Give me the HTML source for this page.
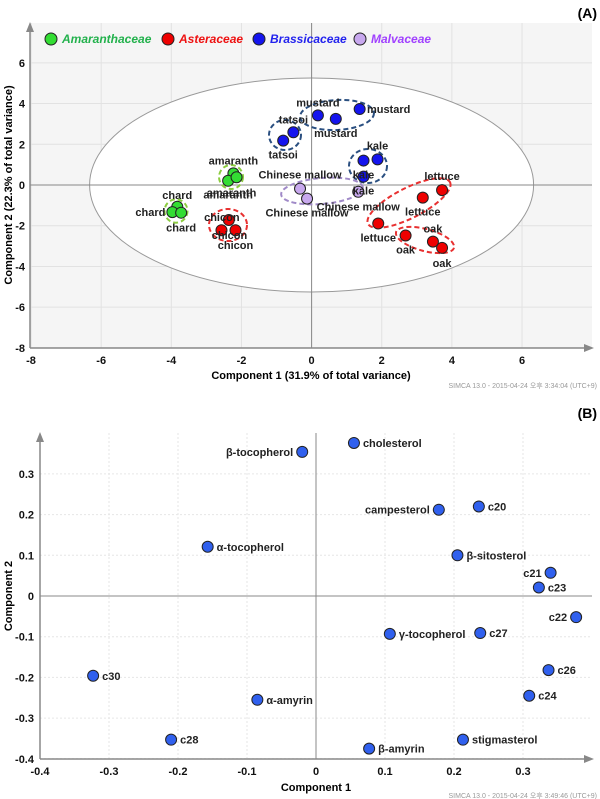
<!DOCTYPE html>
<html><head><meta charset="utf-8"><style>
body{margin:0;background:#fff;}
svg{display:block;font-family:"Liberation Sans",sans-serif;}
.t{font-size:11px;font-weight:bold;fill:#222;}
.tk{font-size:11px;font-weight:bold;fill:#111;}
</style></head><body>
<svg id="s" width="600" height="799" viewBox="0 0 600 799" xmlns="http://www.w3.org/2000/svg">
<text x="597" y="18" text-anchor="end" style="font-size:14px;font-weight:bold">(A)</text>
<text x="597" y="418" text-anchor="end" style="font-size:14px;font-weight:bold">(B)</text>
<g id="A"></g>
<g id="B"></g>
</svg>
<script>
// ---- Panel A data ----
const aNames=["chard","chard","chard","amaranth","amaranth","amaranth","chicon","chicon","chicon","lettuce","lettuce","lettuce","oak","oak","oak","mustard","mustard","mustard","tatsoi","tatsoi","kale","kale","kale","Chinese mallow","Chinese mallow","Chinese mallow"];
const aFamily=[0,0,0,0,0,0,1,1,1,1,1,1,1,1,1,2,2,2,2,2,2,2,2,3,3,3];
const aX=[-3.83,-3.97,-3.72,-2.23,-2.38,-2.14,-2.36,-2.57,-2.17,3.72,3.17,1.90,3.46,2.68,3.72,0.18,0.69,1.37,-0.52,-0.81,1.88,1.48,1.48,-0.33,-0.13,1.33];
const aY=[-1.07,-1.33,-1.36,0.57,0.21,0.38,-1.72,-2.22,-2.22,-0.25,-0.62,-1.89,-2.78,-2.48,-3.09,3.42,3.25,3.73,2.59,2.18,1.26,1.20,0.41,-0.18,-0.67,-0.33];
const aXTicks=[-8,-6,-4,-2,0,2,4,6];
const aYTicks=[-8,-6,-4,-2,0,2,4,6];
const families=["Amaranthaceae","Asteraceae","Brassicaceae","Malvaceae"];
// label offsets (px)
const aLdx=[0,-22,0,0,0,-5,-7,8,0,0,0,0,0,0,0,0,0,29,0,0,0,0,0,0,0,0];
const aLdy=[-12,0,15,-13,14,15,-3,5,15,-14,14,14,-13,14,15,-13,14,0,-13,14,-14,14,14,-14,14,15];
// ---- Panel B data ----
const bNames=["cholesterol","β-tocopherol","campesterol","c20","α-tocopherol","β-sitosterol","c21","c23","c22","γ-tocopherol","c27","c26","c24","c30","α-amyrin","c28","β-amyrin","stigmasterol"];
const bX=[0.055,-0.020,0.178,0.236,-0.157,0.205,0.340,0.323,0.377,0.107,0.238,0.337,0.309,-0.323,-0.085,-0.210,0.077,0.213];
const bY=[0.376,0.354,0.212,0.220,0.121,0.100,0.057,0.021,-0.052,-0.093,-0.091,-0.182,-0.245,-0.196,-0.255,-0.353,-0.375,-0.353];
const bLeft=[0,1,1,0,0,0,1,0,1,0,0,0,0,0,0,0,0,0];
const bXTicks=[-0.4,-0.3,-0.2,-0.1,0,0.1,0.2,0.3];
const bYTicks=[-0.4,-0.3,-0.2,-0.1,0,0.1,0.2,0.3];

const NS="http://www.w3.org/2000/svg";
function mk(p,tag,at,txt){const e=document.createElementNS(NS,tag);for(const k in at)e.setAttribute(k,at[k]);if(txt!==undefined)e.textContent=txt;p.appendChild(e);return e;}

// Panel A scales
const axX=v=>311.6+v*35.07, axY=v=>185+(-v)*20.36;
const A=document.getElementById('A');
let bg=mk(A,'rect',{x:30,y:23,width:562,height:325,fill:'#f5f5f5'});


aXTicks.forEach(v=>{let l=mk(A,'line',{x1:axX(v),x2:axX(v),y1:23,y2:348,stroke:'#e2e2e2'});


let t=mk(A,'text',{x:axX(v),y:364,'text-anchor':'middle',class:'tk'},String(v));

});
aYTicks.forEach(v=>{let l=mk(A,'line',{x1:30,x2:592,y1:axY(v),y2:axY(v),stroke:'#e2e2e2'});


let t=mk(A,'text',{x:25,y:axY(v)+4,'text-anchor':'end',class:'tk'},String(v));

});
let el=mk(A,'ellipse',{cx:axX(0),cy:axY(0),rx:222,ry:107,fill:'#fff',stroke:'#999','stroke-width':1});


mk(A,'line',{x1:axX(0),x2:axX(0),y1:23,y2:348,stroke:'#888'});
mk(A,'line',{x1:30,x2:592,y1:axY(0),y2:axY(0),stroke:'#888'});
mk(A,'line',{x1:30,x2:30,y1:28,y2:348,stroke:'#888','stroke-width':1.5});
mk(A,'line',{x1:30,x2:588,y1:348,y2:348,stroke:'#888','stroke-width':1.5});
mk(A,'path',{d:'M26,32 L30,22 L34,32Z',fill:'#888'});
mk(A,'path',{d:'M584,344 L594,348 L584,352Z',fill:'#888'});
// group ellipses (decorative)
const groups=[[231,177,12,12,0,'#8ccc40'],[176,211,11.5,11.7,0,'#8ccc40'],[228,225,19,16,0,'#e83030'],[285,135,16,15,0,'#2a4f80'],[337,115,37,15,-3,'#2a4f80'],[368,166,19,17,0,'#2a4f80'],[322,191,41,13,-5,'#a08ac8'],[409,203,46,15,-27,'#e83030'],[425,240,30,11,15,'#e83030']];
groups.forEach(g=>{let e=mk(A,'ellipse',{cx:g[0],cy:g[1],rx:g[2],ry:g[3],transform:`rotate(${g[4]} ${g[0]} ${g[1]})`,fill:'none',stroke:g[5],'stroke-width':2,'stroke-dasharray':'5,3'});

});
const fc=['#33dd33','#ee0000','#1414ee','#c8a8ee'];
aX.forEach((v,i)=>{let c=mk(A,'circle',{cx:axX(v),cy:axY(aY[i]),r:5.5,fill:fc[aFamily[i]],stroke:'#222','stroke-width':1});

});
aX.forEach((v,i)=>{let t=mk(A,'text',{x:axX(v)+aLdx[i],y:axY(aY[i])+aLdy[i]+4,'text-anchor':'middle',class:'t'},aNames[i]);

});
// legend
const lgX=[51,168,259,360], lgC=['#22b14c','#ee1111','#2222ee','#a040ff'];
families.forEach((f,i)=>{let c=mk(A,'circle',{cx:lgX[i],cy:39,r:6,fill:fc[i],stroke:'#222'});


let t=mk(A,'text',{x:lgX[i]+11,y:43,style:`font-size:12px;font-weight:bold;font-style:italic;fill:${lgC[i]}`},f);

});
let xt=mk(A,'text',{x:311,y:379,'text-anchor':'middle',style:'font-size:11px;font-weight:bold'},'Component 1 (31.9% of total variance)');


let yt=mk(A,'text',{x:0,y:0,transform:'translate(12,185) rotate(-90)','text-anchor':'middle',style:'font-size:11px;font-weight:bold'},'Component 2 (22.3% of total variance)');


let st=mk(A,'text',{x:597,y:388,'text-anchor':'end',style:'font-size:7px;fill:#999'},'SIMCA 13.0 - 2015-04-24 오후 3:34:04 (UTC+9)');



// Panel B
const bxX=v=>316+v*690, byY=v=>596-v*407;
const B=document.getElementById('B');
bXTicks.forEach(v=>{let l=mk(B,'line',{x1:bxX(v),x2:bxX(v),y1:433,y2:759,stroke:'#e6e6e6','stroke-dasharray':'2,2'});


let t=mk(B,'text',{x:bxX(v),y:775,'text-anchor':'middle',class:'tk'},String(v));

});
bYTicks.forEach(v=>{let l=mk(B,'line',{x1:40,x2:592,y1:byY(v),y2:byY(v),stroke:'#e6e6e6','stroke-dasharray':'2,2'});


let t=mk(B,'text',{x:34,y:byY(v)+4,'text-anchor':'end',class:'tk'},String(v));

});
mk(B,'line',{x1:bxX(0),x2:bxX(0),y1:433,y2:759,stroke:'#888'});
mk(B,'line',{x1:40,x2:592,y1:byY(0),y2:byY(0),stroke:'#888'});
mk(B,'line',{x1:40,x2:40,y1:438,y2:759,stroke:'#888','stroke-width':1.5});
mk(B,'line',{x1:40,x2:588,y1:759,y2:759,stroke:'#888','stroke-width':1.5});
mk(B,'path',{d:'M36,442 L40,432 L44,442Z',fill:'#888'});
mk(B,'path',{d:'M584,755 L594,759 L584,763Z',fill:'#888'});
bX.forEach((v,i)=>{const cx=bxX(v),cy=byY(bY[i]);
let c=mk(B,'circle',{cx:cx,cy:cy,r:5.5,fill:'#3060ee',stroke:'#222'});


let t=mk(B,'text',{x:bLeft[i]?cx-9:cx+9,y:cy+4,'text-anchor':bLeft[i]?'end':'start',class:'t'},bNames[i]);

});
let xt2=mk(B,'text',{x:316,y:791,'text-anchor':'middle',style:'font-size:11px;font-weight:bold'},'Component 1');


let yt2=mk(B,'text',{x:0,y:0,transform:'translate(12,596) rotate(-90)','text-anchor':'middle',style:'font-size:11px;font-weight:bold'},'Component 2');


let st2=mk(B,'text',{x:597,y:798,'text-anchor':'end',style:'font-size:7px;fill:#999'},'SIMCA 13.0 - 2015-04-24 오후 3:49:46 (UTC+9)');


</script>
</body></html>
